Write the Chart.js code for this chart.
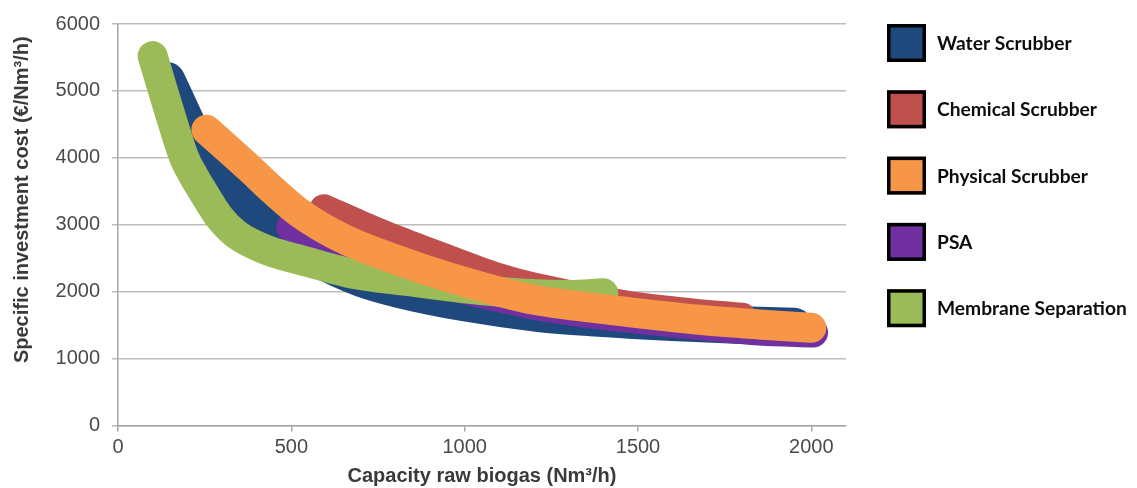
<!DOCTYPE html>
<html><head><meta charset="utf-8">
<script src="https://cdn.jsdelivr.net/npm/chart.js@4.4.1/dist/chart.umd.min.js"></script>
<style>html,body{margin:0;padding:0;background:#fff;}#wrap{width:1137px;height:488px;position:relative;}</style>
</head><body><div id="wrap"><canvas id="c"></canvas></div>
<script>
const seriesNames = ['Water Scrubber', 'Chemical Scrubber', 'Physical Scrubber', 'PSA', 'Membrane Separation'];
const seriesColors = ['#1F497D', '#C0504D', '#F79646', '#7030A0', '#9BBB59'];

const waterX = [140, 200, 244, 293, 341, 388, 466, 523, 590, 700, 812, 1000, 1215, 1388, 1600, 1800, 1950];
const waterY = [5150, 4480, 3985, 3628, 3356, 3185, 2920, 2720, 2470, 2210, 2040, 1840, 1681, 1610, 1545, 1500, 1475];

const chemX = [595, 700, 812, 950, 1100, 1200, 1475, 1650, 1800];
const chemY = [3230, 2990, 2750, 2480, 2200, 2060, 1785, 1680, 1610];

const physX = [255, 379, 450, 523, 650, 812, 950, 1100, 1200, 1450, 1677, 1850, 2000];
const physY = [4420, 3844, 3500, 3180, 2790, 2460, 2220, 2000, 1880, 1710, 1580, 1510, 1460];

const psaX = [500, 610, 700, 840, 1071, 1215, 1388, 1677, 1850, 2005];
const psaY = [2960, 2674, 2500, 2260, 1950, 1790, 1660, 1500, 1420, 1390];

const memX = [100, 150, 192, 218, 244, 293, 341, 437, 532, 667, 840, 1000, 1190, 1300, 1400];
const memY = [5520, 4660, 3990, 3730, 3504, 3109, 2859, 2607, 2467, 2280, 2156, 2050, 1965, 1950, 1975];

const xTicks = [0, 500, 1000, 1500, 2000];
const yTicks = [0, 1000, 2000, 3000, 4000, 5000, 6000];

const seriesXs = [waterX, chemX, physX, psaX, memX];
const seriesYs = [waterY, chemY, physY, psaY, memY];
const drawOrder = [4, 3, 0, 2, 1];   // lower = drawn on top
const bandWidth = [38, 30, 30, 30, 30];

const datasets = seriesNames.map((name, i) => ({
  label: name,
  data: seriesXs[i].map((x, k) => ({ x: x, y: seriesYs[i][k] })),
  borderColor: seriesColors[i],
  backgroundColor: seriesColors[i],
  borderWidth: bandWidth[i],
  borderCapStyle: 'round',
  borderJoinStyle: 'round',
  cubicInterpolationMode: 'monotone',
  pointRadius: 0,
  pointHoverRadius: 0,
  fill: false,
  clip: false,
  order: drawOrder[i]
}));

const sideLegend = {
  id: 'sideLegend',
  afterDraw(chart) {
    const ctx = chart.ctx;
    ctx.save();
    let size = 20;
    ctx.font = 'bold ' + size + 'px Lato';
    const w = ctx.measureText('Membrane Separation').width;
    size = size * 190 / w;
    ctx.font = 'bold ' + size.toFixed(2) + 'px Lato';
    chart.data.datasets.forEach((ds, i) => {
      const cy = 43 + i * 66.3;
      ctx.fillStyle = ds.borderColor;
      ctx.fillRect(887, cy - 19, 39, 38);
      ctx.lineWidth = 3.5;
      ctx.strokeStyle = '#000';
      ctx.strokeRect(888.75, cy - 17.25, 35.5, 34.5);
      ctx.fillStyle = '#0d0d0d';
      ctx.textBaseline = 'middle';
      ctx.textAlign = 'left';
      ctx.fillText(ds.label, 937, cy + 1);
    });
    ctx.restore();
  }
};

const tickFont = { family: 'Liberation Sans', size: 20 };
const titleFont = { family: 'Liberation Sans', size: 20, weight: 'bold' };
const plainNum = v => String(v);

new Chart(document.getElementById('c'), {
  type: 'line',
  data: { datasets: datasets },
  options: {
    responsive: true,
    maintainAspectRatio: false,
    animation: false,
    events: [],
    layout: { padding: { left: 0, right: 291, top: 21, bottom: 0 } },
    plugins: { legend: { display: false }, tooltip: { enabled: false } },
    scales: {
      x: {
        type: 'linear', min: 0, max: 2100,
        afterBuildTicks: s => { s.ticks = xTicks.map(v => ({ value: v })); },
        afterFit: s => { s.height = 62.5; },
        grid: { drawOnChartArea: false, drawTicks: true, tickLength: 6, color: '#a6a6a6', lineWidth: 1.5 },
        border: { color: '#a6a6a6', width: 1.5 },
        ticks: { font: tickFont, color: '#4a4a4a', padding: 4, maxRotation: 0, autoSkip: false, callback: plainNum },
        title: { display: true, text: 'Capacity raw biogas (Nm³/h)', font: titleFont, color: '#3a3a3a', padding: { top: 0, bottom: 0 } }
      },
      y: {
        type: 'linear', min: 0, max: 6000,
        afterBuildTicks: s => { s.ticks = yTicks.map(v => ({ value: v })); },
        afterFit: s => { s.width = 118; },
        grid: { color: '#bdbdbd', lineWidth: 1.5, tickLength: 6, drawTicks: true },
        border: { color: '#a6a6a6', width: 1.5 },
        ticks: { font: tickFont, color: '#4a4a4a', padding: 12, autoSkip: false, callback: plainNum },
        title: { display: true, text: '         Specific investment cost (€/Nm³/h)', font: titleFont, color: '#3a3a3a', padding: { top: 10, bottom: 0 } }
      }
    }
  },
  plugins: [sideLegend]
});
</script>
</body></html>
